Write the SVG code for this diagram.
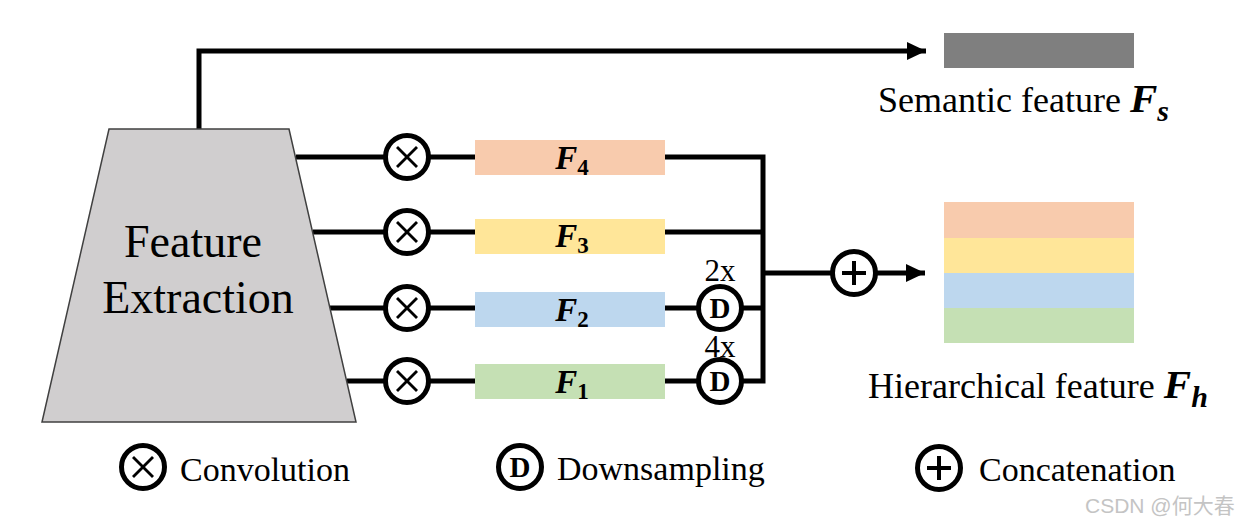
<svg xmlns="http://www.w3.org/2000/svg" width="1260" height="530" viewBox="0 0 1260 530">
<style>
.ln{fill:none;stroke:#000;stroke-width:5;stroke-linejoin:miter}
.ring{fill:#fff;stroke:#000;stroke-width:5}
.xm{stroke:#000;stroke-width:2.8;stroke-linecap:butt}
.pl{stroke:#000;stroke-width:4}
.serif{font-family:"Liberation Serif","Times New Roman",serif;fill:#000}
.fl{font-family:"Liberation Serif","Times New Roman",serif;font-weight:bold;font-style:italic;fill:#000}
.sub{font-style:normal}
</style>
<defs>
<marker id="arr" markerUnits="userSpaceOnUse" markerWidth="20" markerHeight="18" refX="19" refY="9" orient="auto">
<path d="M0,0 L19,9 L0,18 z" fill="#000"/>
</marker>
<g id="xsym"><circle r="21.5" class="ring"/><line x1="-10" y1="-10" x2="10" y2="10" class="xm"/><line x1="-10" y1="10" x2="10" y2="-10" class="xm"/></g>
<g id="dsym"><circle r="21.5" class="ring"/><text y="10" font-family="'Liberation Serif','Times New Roman',serif" font-weight="bold" font-size="29" text-anchor="middle" fill="#000">D</text></g>
<g id="psym"><circle r="21.5" class="ring"/><line x1="-12" y1="0" x2="12" y2="0" class="pl"/><line x1="0" y1="-12" x2="0" y2="12" class="pl"/></g>
</defs>
<rect width="1260" height="530" fill="#fff"/>

<g id="connectors">
<path class="ln" d="M199,129 V51 H926" marker-end="url(#arr)"/>
<path class="ln" d="M296,157 H475"/>
<path class="ln" d="M313,232 H475"/>
<path class="ln" d="M330,308 H475"/>
<path class="ln" d="M347,381 H475"/>
<path class="ln" d="M665,157 H763 V381 H665"/>
<path class="ln" d="M665,232 H763"/>
<path class="ln" d="M665,308 H763"/>
<path class="ln" d="M763,273 H925" marker-end="url(#arr)"/>
</g>

<g id="feature-extraction">
<polygon points="109,129 289,129 356,422 42,422" fill="#d0cecf" stroke="#404040" stroke-width="1.5"/>
<text class="serif" font-size="46" text-anchor="middle" x="193" y="257">Feature</text>
<text class="serif" font-size="46" text-anchor="middle" x="198" y="313">Extraction</text>
</g>

<g id="conv4"><use href="#xsym" x="407" y="157"/></g>
<g id="conv3"><use href="#xsym" x="407" y="232"/></g>
<g id="conv2"><use href="#xsym" x="407" y="308"/></g>
<g id="conv1"><use href="#xsym" x="407" y="381"/></g>

<g id="F4"><rect x="475" y="140" width="190" height="35" fill="#f8cbad"/>
<text class="fl" font-size="33" x="572" y="169" text-anchor="middle">F<tspan class="sub" font-size="23" dy="6">4</tspan></text></g>
<g id="F3"><rect x="475" y="219" width="190" height="35" fill="#ffe699"/>
<text class="fl" font-size="33" x="572" y="247" text-anchor="middle">F<tspan class="sub" font-size="23" dy="6">3</tspan></text></g>
<g id="F2"><rect x="475" y="292" width="190" height="35" fill="#bdd7ee"/>
<text class="fl" font-size="33" x="572" y="321" text-anchor="middle">F<tspan class="sub" font-size="23" dy="6">2</tspan></text></g>
<g id="F1"><rect x="475" y="364" width="190" height="35" fill="#c5e0b4"/>
<text class="fl" font-size="33" x="572" y="393" text-anchor="middle">F<tspan class="sub" font-size="23" dy="6">1</tspan></text></g>

<g id="down2"><use href="#dsym" x="720" y="308"/><text class="serif" font-size="31" x="720" y="281" text-anchor="middle">2x</text></g>
<g id="down4"><use href="#dsym" x="720" y="381"/><text class="serif" font-size="31" x="720" y="357" text-anchor="middle">4x</text></g>

<g id="concat"><use href="#psym" x="854" y="273"/></g>

<g id="semantic-feature">
<rect x="944" y="33" width="190" height="35" fill="#7f7f7f"/>
<text class="serif" font-size="36" x="878" y="112">Semantic feature <tspan class="fl" font-size="41">F</tspan><tspan class="fl" font-size="30" dy="9">s</tspan></text>
</g>

<g id="hierarchical-feature">
<rect x="944" y="202" width="190" height="36" fill="#f8cbad"/>
<rect x="944" y="238" width="190" height="35" fill="#ffe699"/>
<rect x="944" y="273" width="190" height="35" fill="#bdd7ee"/>
<rect x="944" y="308" width="190" height="35" fill="#c5e0b4"/>
<text class="serif" font-size="36" x="868" y="398">Hierarchical feature <tspan class="fl" font-size="41">F</tspan><tspan class="fl" font-size="30" dy="9">h</tspan></text>
</g>

<g id="legend">
<g id="legend-conv"><use href="#xsym" x="143" y="467"/><text class="serif" font-size="34" x="180" y="481">Convolution</text></g>
<g id="legend-down"><use href="#dsym" x="520" y="467"/><text class="serif" font-size="34" x="557" y="480">Downsampling</text></g>
<g id="legend-concat"><use href="#psym" x="939" y="468"/><text class="serif" font-size="34" x="979" y="481">Concatenation</text></g>
</g>

<text x="1085" y="513" font-family="'Liberation Sans','Noto Sans CJK SC',sans-serif" font-size="21" fill="#c4c4c4">CSDN @何大春</text>
</svg>
